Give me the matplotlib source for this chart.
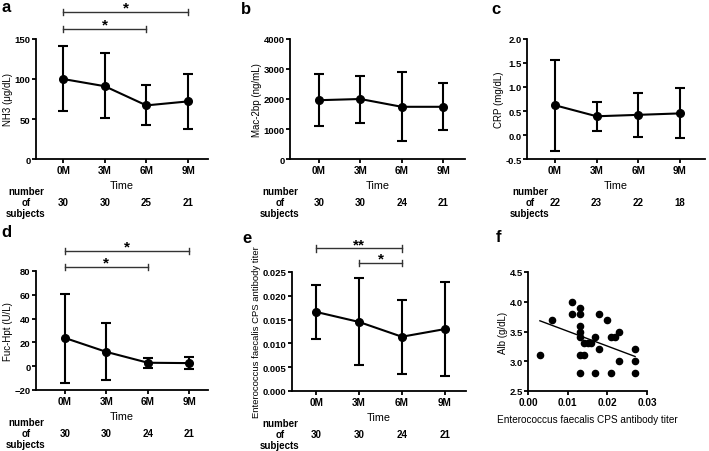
import matplotlib
matplotlib.use('Agg')
import matplotlib.pyplot as plt
import matplotlib.transforms as mtransforms
from matplotlib.ticker import FormatStrFormatter

plt.rcParams['font.family'] = ['Liberation Sans', 'DejaVu Sans']
plt.rcParams['font.weight'] = 'bold'
plt.rcParams['font.size'] = 7.2

W, H = 709, 452

# ── Datos ────────────────────────────────────────────────────────────────────
months = ['0M', '3M', '6M', '9M']

a_mean = [100, 91, 67, 72]
a_lo   = [60, 51, 42, 38]
a_hi   = [141, 132, 93, 106]
a_n    = [30, 30, 25, 21]

b_mean = [1960, 2000, 1740, 1740]
b_lo   = [1090, 1200, 590, 970]
b_hi   = [2840, 2780, 2910, 2520]
b_n    = [30, 30, 24, 21]

c_mean = [0.62, 0.39, 0.42, 0.45]
c_lo   = [-0.33, 0.09, -0.04, -0.07]
c_hi   = [1.56, 0.69, 0.875, 0.97]
c_n    = [22, 23, 22, 18]

d_mean = [23.7, 12.0, 2.9, 2.6]
d_lo   = [-14.0, -12.0, -1.5, -2.0]
d_hi   = [60.5, 36.0, 7.3, 7.4]
d_n    = [30, 30, 24, 21]

e_mean = [0.0166, 0.0145, 0.0114, 0.0130]
e_lo   = [0.0110, 0.0054, 0.0036, 0.0032]
e_hi   = [0.0222, 0.0238, 0.0192, 0.0228]
e_n    = [30, 30, 24, 21]

f_x = [0.003, 0.006, 0.011, 0.011, 0.013, 0.013, 0.013, 0.013, 0.013, 0.013,
       0.013, 0.014, 0.014, 0.015, 0.016, 0.017, 0.017, 0.018, 0.018, 0.020,
       0.021, 0.021, 0.022, 0.023, 0.023, 0.027, 0.027, 0.027]
f_y = [3.1, 3.7, 4.0, 3.8, 3.9, 3.8, 3.6, 3.5, 3.4, 3.1,
       2.8, 3.3, 3.1, 3.3, 3.3, 3.4, 2.8, 3.8, 3.2, 3.7,
       3.4, 2.8, 3.4, 3.5, 3.0, 3.2, 3.0, 2.8]
fit_x = [0.003, 0.027]
fit_y = [3.68, 3.08]

fig = plt.figure(figsize=(W / 100, H / 100), dpi=100)


def rect(left, top, right, bottom):
    return [left / W, 1 - bottom / H, (right - left) / W, (bottom - top) / H]


def estilo(ax):
    for s in ['top', 'right']:
        ax.spines[s].set_visible(False)
    for s in ['left', 'bottom']:
        ax.spines[s].set_linewidth(1.3)
    ax.tick_params(width=1.3, length=3, pad=1.2, labelsize=7.2)
    ax.tick_params(axis='y', labelsize=6.8, pad=0.8)


# ── Panel de serie temporal ──────────────────────────────────────────────────
def panel_tiempo(box, xlim, mean, lo, hi, n, ylim, yticks, ylabel, ncenter):
    ax = fig.add_axes(rect(*box))
    x = range(len(months))
    yerr = [[m - l for m, l in zip(mean, lo)], [h - m for m, h in zip(mean, hi)]]
    ax.errorbar(x, mean, yerr=yerr, color='black', marker='o', markersize=5.5,
                linewidth=1.5, elinewidth=1.5, capsize=3.8, capthick=1.5,
                clip_on=False, zorder=3)
    ax.set_xlim(*xlim)
    ax.set_ylim(*ylim)
    ax.set_yticks(yticks)
    ax.set_xticks(list(x))
    ax.set_xticklabels(months)
    ax.set_xlabel('Time', fontsize=7.8, labelpad=4)
    ax.set_ylabel(ylabel, fontsize=7.0, labelpad=1)
    estilo(ax)

    # fila "number of subjects"
    bottom = box[3]
    tr = mtransforms.blended_transform_factory(ax.transData, fig.transFigure)
    for i, k in enumerate(n):
        ax.text(i, 1 - (bottom + 43) / H, str(k), transform=tr,
                ha='center', va='center', fontsize=7.0)
    fig.text(ncenter / W, 1 - (bottom + 43) / H, 'number\nof\nsubjects',
             ha='center', va='center', fontsize=7.0, linespacing=1.15)
    return ax


def corchete(ax, x0, x1, yfrac, star, star_yfrac):
    tr = mtransforms.blended_transform_factory(ax.transData, ax.transAxes)
    ax.plot([x0, x1], [yfrac, yfrac], color='#333333', linewidth=1.0,
            transform=tr, clip_on=False)
    for xx in (x0, x1):
        ax.plot([xx, xx], [yfrac - 0.028, yfrac + 0.028], color='#333333',
                linewidth=1.0, transform=tr, clip_on=False)
    ax.text((x0 + x1) / 2, star_yfrac, star, transform=tr, ha='center',
            va='center', fontsize=11, fontweight='bold')


ax_a = panel_tiempo((36, 40, 208, 160), (-0.65, 3.48), a_mean, a_lo, a_hi, a_n,
                    (0, 150), [0, 50, 100, 150], 'NH3 (μg/dL)', 26)
corchete(ax_a, 0, 3, 1.225, '*', 1.265)
corchete(ax_a, 0, 2, 1.083, '*', 1.123)

ax_b = panel_tiempo((290, 40, 465, 160), (-0.70, 3.53), b_mean, b_lo, b_hi, b_n,
                    (0, 4000), [0, 1000, 2000, 3000, 4000], 'Mac-2bp (ng/mL)', 280)

ax_c = panel_tiempo((527, 40, 705, 160), (-0.67, 3.6), c_mean, c_lo, c_hi, c_n,
                    (-0.5, 2.0), [-0.5, 0.0, 0.5, 1.0, 1.5, 2.0], 'CRP (mg/dL)', 530)
ax_c.yaxis.set_major_formatter(FormatStrFormatter('%.1f'))

ax_d = panel_tiempo((36, 272, 208, 391), (-0.70, 3.45), d_mean, d_lo, d_hi, d_n,
                    (-20, 80), [-20, 0, 20, 40, 60, 80], 'Fuc-Hpt (U/L)', 26)
corchete(ax_d, 0, 3, 1.168, '*', 1.205)
corchete(ax_d, 0, 2, 1.034, '*', 1.07)

ax_e = panel_tiempo((292, 273, 466, 392), (-0.57, 3.5), e_mean, e_lo, e_hi, e_n,
                    (0, 0.025), [0, 0.005, 0.010, 0.015, 0.020, 0.025],
                    'Enterococcus faecalis CPS antibody titer', 280)
ax_e.yaxis.set_major_formatter(FormatStrFormatter('%.3f'))
ax_e.yaxis.label.set_size(6.8)
corchete(ax_e, 0, 2, 1.20, '**', 1.235)
corchete(ax_e, 1, 2, 1.076, '*', 1.11)

# ── Panel f: dispersión ──────────────────────────────────────────────────────
ax_f = fig.add_axes(rect(528, 273, 647, 392))
ax_f.scatter(f_x, f_y, s=20, color='black', zorder=3, clip_on=False)
ax_f.plot(fit_x, fit_y, color='black', linewidth=1.0)
ax_f.set_xlim(0, 0.03)
ax_f.set_ylim(2.5, 4.5)
ax_f.set_xticks([0, 0.01, 0.02, 0.03])
ax_f.set_yticks([2.5, 3.0, 3.5, 4.0, 4.5])
ax_f.xaxis.set_major_formatter(FormatStrFormatter('%.2f'))
ax_f.yaxis.set_major_formatter(FormatStrFormatter('%.1f'))
ax_f.set_xlabel('Enterococcus faecalis CPS antibody titer', fontsize=7.2, labelpad=5)
ax_f.set_ylabel('Alb (g/dL)', fontsize=7.0, labelpad=1)
estilo(ax_f)

# ── Letras de panel ──────────────────────────────────────────────────────────
for letra, (px, py) in {'a': (6, 8), 'b': (246, 9), 'c': (496, 9),
                        'd': (6, 233), 'e': (247, 239), 'f': (498, 238)}.items():
    fig.text(px / W, 1 - py / H, letra, ha='center', va='center',
             fontsize=12, fontweight='bold')

fig.savefig('out.png', dpi=100)
